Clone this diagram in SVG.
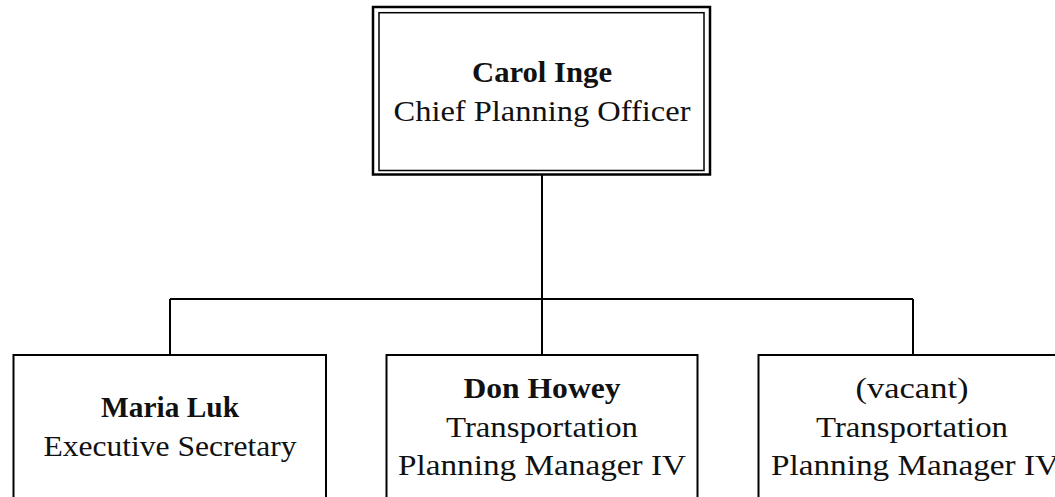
<svg xmlns="http://www.w3.org/2000/svg" width="1055" height="497" viewBox="0 0 1055 497">
<style>
.box{fill:#fff;stroke:#000;stroke-width:2}
.t{font-family:"Liberation Serif","Times New Roman",serif;font-size:29.5px;fill:#111;text-anchor:middle}
.b{font-weight:bold}
.c{stroke:#000;stroke-width:2;fill:none}
</style>
<rect width="1055" height="497" fill="#fff"/>
<g id="connectors">
<path class="c" d="M542 175V299M170 299H913M170 299V361M542 299V355M913 299V355"/>
</g>
<g id="carol">
<rect x="373" y="7" width="337" height="167.5" fill="#fff" stroke="#000" stroke-width="2.5"/>
<rect x="379" y="12.7" width="325" height="157.8" fill="none" stroke="#000" stroke-width="1.5"/>
<text class="t b" x="542" y="82" textLength="140" lengthAdjust="spacingAndGlyphs">Carol Inge</text>
<text class="t" x="542" y="121" textLength="297" lengthAdjust="spacingAndGlyphs">Chief Planning Officer</text>
</g>
<g id="maria">
<rect class="box" x="13.5" y="355" width="312.5" height="200"/>
<text class="t b" x="170" y="416.7" textLength="138" lengthAdjust="spacingAndGlyphs">Maria Luk</text>
<text class="t" x="170" y="455.7" textLength="253" lengthAdjust="spacingAndGlyphs">Executive Secretary</text>
</g>
<g id="don">
<rect class="box" x="386.5" y="355" width="311" height="200"/>
<text class="t b" x="542" y="398.3" textLength="157" lengthAdjust="spacingAndGlyphs">Don Howey</text>
<text class="t" x="542" y="436.7" textLength="192" lengthAdjust="spacingAndGlyphs">Transportation</text>
<text class="t" x="542" y="475" textLength="288" lengthAdjust="spacingAndGlyphs">Planning Manager IV</text>
</g>
<g id="vacant">
<rect class="box" x="758.5" y="355" width="312" height="200"/>
<text class="t" x="912" y="398.3" textLength="113" lengthAdjust="spacingAndGlyphs">(vacant)</text>
<text class="t" x="912" y="436.7" textLength="192" lengthAdjust="spacingAndGlyphs">Transportation</text>
<text class="t" x="915" y="475" textLength="288" lengthAdjust="spacingAndGlyphs">Planning Manager IV</text>
</g>
</svg>
